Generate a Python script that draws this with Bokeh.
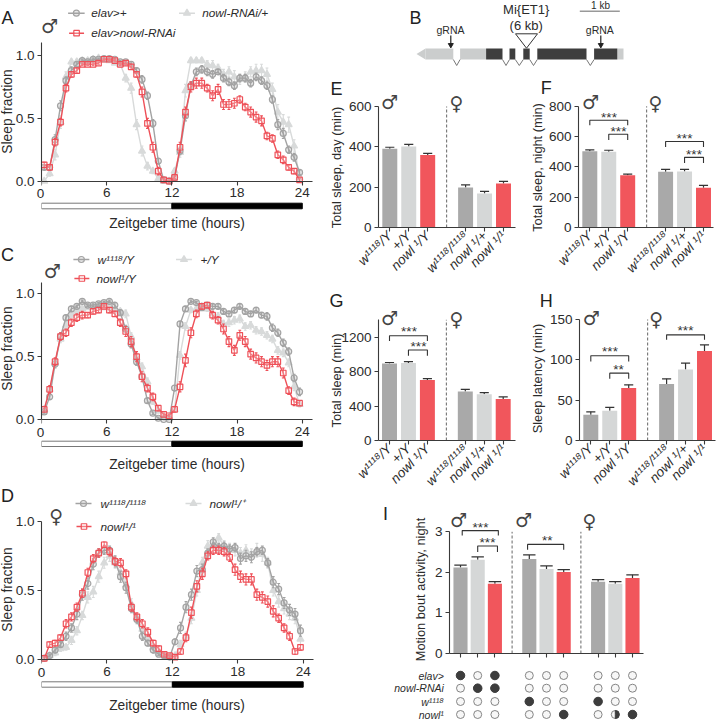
from math import pi
from bokeh.plotting import figure
from bokeh.layouts import row, column
from bokeh.models import Range1d, Label, FixedTicker
from bokeh.embed import file_html
from bokeh.resources import INLINE

# ---------- data ----------
ZT = [0.25,0.75,1.25,1.75,2.25,2.75,3.25,3.75,4.25,4.75,5.25,5.75,6.25,6.75,7.25,7.75,8.25,8.75,9.25,9.75,10.25,10.75,11.25,11.75,
      12.25,12.75,13.25,13.75,14.25,14.75,15.25,15.75,16.25,16.75,17.25,17.75,18.25,18.75,19.25,19.75,20.25,20.75,21.25,21.75,22.25,22.75,23.25,23.75]

a_dark = [0.11,0.11,0.33,0.60,0.80,0.88,0.93,0.96,0.95,0.97,0.97,0.975,0.975,0.97,0.95,0.95,0.93,0.88,0.81,0.68,0.46,0.16,0.01,0.0,
          0.03,0.24,0.52,0.76,0.87,0.89,0.87,0.85,0.87,0.82,0.79,0.76,0.82,0.82,0.78,0.83,0.80,0.76,0.65,0.45,0.38,0.25,0.19,0.07]
a_dark_e = [0.02,0.02,0.04,0.04,0.03,0.03,0.02,0.01,0.01,0.01,0.01,0.01,0.01,0.01,0.01,0.01,0.02,0.02,0.03,0.03,0.03,0.02,0.01,0.01,
            0.01,0.03,0.04,0.03,0.03,0.03,0.03,0.03,0.02,0.03,0.03,0.03,0.03,0.03,0.03,0.03,0.03,0.03,0.03,0.04,0.04,0.03,0.03,0.02]
a_light = [0.0,0.06,0.21,0.47,0.83,0.95,0.95,0.96,0.96,0.97,0.98,0.97,0.96,0.94,0.93,0.82,0.74,0.45,0.24,0.12,0.08,0.02,0.0,0.0,
           0.08,0.23,0.72,0.96,0.96,0.96,0.93,0.92,0.90,0.85,0.87,0.83,0.81,0.83,0.87,0.88,0.88,0.85,0.73,0.55,0.47,0.45,0.28,0.03]
a_light_e = [0.01,0.02,0.04,0.05,0.04,0.02,0.02,0.01,0.01,0.01,0.01,0.01,0.01,0.01,0.02,0.03,0.04,0.04,0.04,0.03,0.02,0.01,0.0,0.0,
             0.02,0.04,0.05,0.02,0.02,0.02,0.03,0.04,0.03,0.04,0.04,0.05,0.04,0.04,0.04,0.05,0.05,0.05,0.05,0.06,0.06,0.06,0.05,0.02]
a_red = [0.13,0.11,0.31,0.47,0.74,0.85,0.88,0.93,0.93,0.93,0.94,0.97,0.97,0.96,0.93,0.94,0.91,0.85,0.71,0.46,0.27,0.08,0.01,0.0,
         0.03,0.27,0.55,0.75,0.78,0.78,0.74,0.68,0.73,0.61,0.61,0.62,0.65,0.59,0.55,0.51,0.48,0.36,0.34,0.21,0.17,0.11,0.08,0.01]
a_red_e = [0.02,0.02,0.03,0.03,0.03,0.02,0.02,0.01,0.01,0.01,0.01,0.01,0.01,0.01,0.01,0.01,0.02,0.02,0.04,0.04,0.04,0.03,0.01,0.01,
           0.01,0.04,0.04,0.04,0.04,0.04,0.03,0.04,0.04,0.04,0.04,0.04,0.03,0.03,0.04,0.04,0.04,0.03,0.03,0.03,0.03,0.02,0.02,0.01]

c_dark = [0.06,0.18,0.44,0.66,0.81,0.88,0.90,0.94,0.91,0.91,0.92,0.93,0.94,0.91,0.85,0.72,0.60,0.46,0.34,0.15,0.05,0.01,0.0,0.0,
          0.25,0.76,0.88,0.94,0.93,0.89,0.91,0.90,0.90,0.86,0.84,0.87,0.90,0.86,0.84,0.87,0.83,0.82,0.73,0.69,0.61,0.54,0.33,0.22]
c_dark_e = [0.01,0.02,0.03,0.03,0.02,0.02,0.01,0.01,0.01,0.01,0.01,0.01,0.01,0.02,0.02,0.03,0.03,0.03,0.02,0.02,0.01,0.01,0.0,0.0,
            0.02,0.02,0.02,0.01,0.01,0.02,0.02,0.02,0.02,0.02,0.02,0.02,0.02,0.02,0.02,0.02,0.02,0.03,0.03,0.03,0.03,0.03,0.03,0.03]
c_light = [0.08,0.24,0.45,0.64,0.75,0.83,0.86,0.88,0.89,0.89,0.90,0.89,0.89,0.87,0.86,0.84,0.66,0.49,0.42,0.30,0.14,0.07,0.03,0.02,
           0.08,0.51,0.74,0.87,0.88,0.90,0.88,0.84,0.82,0.76,0.77,0.79,0.80,0.74,0.75,0.71,0.70,0.67,0.64,0.55,0.53,0.45,0.26,0.12]
c_light_e = [0.01,0.02,0.03,0.03,0.03,0.02,0.02,0.02,0.01,0.01,0.01,0.01,0.01,0.02,0.02,0.03,0.03,0.03,0.03,0.03,0.02,0.02,0.01,0.01,
             0.02,0.03,0.03,0.02,0.02,0.02,0.02,0.03,0.03,0.03,0.03,0.03,0.03,0.03,0.03,0.03,0.03,0.03,0.03,0.03,0.03,0.03,0.03,0.02]
c_red = [0.08,0.24,0.46,0.66,0.69,0.77,0.81,0.83,0.83,0.86,0.87,0.90,0.87,0.84,0.77,0.70,0.62,0.50,0.34,0.25,0.18,0.09,0.04,0.03,
         0.08,0.26,0.47,0.69,0.84,0.90,0.91,0.83,0.79,0.72,0.62,0.55,0.67,0.62,0.52,0.49,0.46,0.43,0.46,0.46,0.37,0.23,0.14,0.13]
c_red_e = [0.01,0.03,0.03,0.03,0.03,0.03,0.03,0.03,0.02,0.02,0.02,0.01,0.02,0.02,0.03,0.04,0.04,0.04,0.04,0.03,0.03,0.02,0.01,0.01,
           0.02,0.04,0.05,0.04,0.03,0.02,0.02,0.03,0.03,0.04,0.04,0.04,0.04,0.04,0.04,0.04,0.04,0.04,0.04,0.04,0.04,0.03,0.03,0.02]

d_dark = [0.01,0.03,0.07,0.11,0.17,0.23,0.33,0.47,0.55,0.69,0.77,0.79,0.79,0.71,0.60,0.52,0.37,0.29,0.17,0.12,0.07,0.04,0.03,0.02,
          0.13,0.23,0.38,0.47,0.64,0.65,0.77,0.85,0.81,0.82,0.80,0.81,0.73,0.75,0.74,0.78,0.79,0.70,0.56,0.51,0.41,0.36,0.33,0.21]
d_dark_e = [0.01,0.01,0.02,0.02,0.03,0.03,0.04,0.04,0.04,0.04,0.03,0.03,0.03,0.04,0.04,0.04,0.03,0.03,0.03,0.02,0.02,0.01,0.01,0.01,
            0.02,0.04,0.04,0.04,0.04,0.04,0.03,0.03,0.03,0.03,0.03,0.03,0.04,0.04,0.04,0.03,0.03,0.03,0.04,0.04,0.04,0.04,0.04,0.04]
d_light = [0.01,0.03,0.05,0.08,0.09,0.14,0.21,0.32,0.45,0.49,0.60,0.70,0.75,0.70,0.63,0.54,0.40,0.30,0.22,0.16,0.09,0.05,0.03,0.02,
           0.03,0.11,0.17,0.30,0.50,0.70,0.82,0.82,0.88,0.82,0.80,0.79,0.77,0.79,0.76,0.79,0.76,0.70,0.50,0.42,0.37,0.33,0.30,0.15]
d_light_e = [0.01,0.01,0.02,0.02,0.02,0.03,0.03,0.03,0.04,0.04,0.04,0.04,0.04,0.04,0.04,0.04,0.04,0.03,0.03,0.03,0.02,0.02,0.01,0.01,
             0.01,0.03,0.03,0.04,0.04,0.04,0.04,0.04,0.03,0.04,0.04,0.04,0.04,0.04,0.04,0.05,0.05,0.04,0.04,0.04,0.04,0.04,0.04,0.04]
d_red = [0.01,0.11,0.12,0.16,0.26,0.31,0.38,0.48,0.63,0.73,0.77,0.83,0.78,0.71,0.70,0.62,0.38,0.31,0.26,0.20,0.12,0.08,0.04,0.03,
         0.02,0.06,0.16,0.34,0.53,0.62,0.75,0.79,0.79,0.78,0.74,0.65,0.60,0.58,0.58,0.47,0.45,0.42,0.35,0.30,0.23,0.17,0.06,0.09]
d_red_e = [0.01,0.02,0.02,0.02,0.03,0.03,0.03,0.03,0.03,0.03,0.03,0.02,0.03,0.03,0.03,0.03,0.03,0.03,0.03,0.03,0.02,0.02,0.01,0.01,
           0.01,0.02,0.03,0.04,0.04,0.04,0.03,0.03,0.03,0.03,0.03,0.04,0.04,0.04,0.04,0.04,0.04,0.04,0.04,0.03,0.03,0.03,0.02,0.02]

bar_pos = [0, 1, 2, 4, 5, 6]
bar_labels = ["w\u00b9\u00b9\u00b9\u2078/Y", "+/Y", "nowl \u00b9/Y", "w\u00b9\u00b9\u00b9\u2078/\u00b9\u00b9\u00b9\u2078", "nowl \u00b9/+", "nowl \u00b9/\u00b9"]
e_val = [390, 402, 360, 198, 168, 218]
e_err = [8, 10, 8, 13, 11, 11]
f_val = [503, 500, 345, 368, 370, 262]
f_err = [9, 10, 8, 16, 14, 16]
g_val = [893, 900, 703, 568, 537, 482]
g_err = [12, 14, 14, 24, 18, 24]
h_val = [32, 37, 65, 70, 88, 111]
h_err = [3.5, 4, 4, 6.5, 8, 7.5]
i_pos = [0, 1, 2, 4, 5, 6, 8, 9, 10]
i_val = [2.12, 2.31, 1.72, 2.33, 2.08, 2.01, 1.77, 1.72, 1.86]
i_err = [0.06, 0.07, 0.05, 0.10, 0.08, 0.06, 0.05, 0.05, 0.08]
geno_rows = ["elav>", "nowl-RNAi", "w\u00b9\u00b9\u00b9\u2078", "nowl\u00b9"]
geno_marks = [[1,0,1,0,0,0,0,0,0],
              [0,1,1,0,0,0,0,0,0],
              [0,0,0,1,0,0,1,0,0],
              [0,0,0,0,0,1,0,0.5,1]]

utr_kb = [(0.92, 0.225), (1.09, 1.74), (5.02, 5.175)]
exon_kb = [(1.74, 2.15), (2.325, 2.47), (2.67, 2.83), (3.02, 4.25), (4.44, 5.02)]
intron_kb = [(0.92, 1.09), (2.15, 2.325), (2.47, 2.67), (2.83, 3.02), (4.25, 4.44)]

# ---------- style ----------
DARK = "#a3a3a3"; LIGHT = "#d8dada"; RED = "#ee5058"; INK = "#2b2b2b"
BAR_DARK = "#a9a9a9"; BAR_LIGHT = "#d5d7d7"; BAR_RED = "#f1565c"
FONT = "Liberation Sans"

# A transparent layer over the whole page carries the free-standing texts.
overlay = figure(width=716, height=720, x_range=Range1d(0, 716), y_range=Range1d(720, 0),
                 x_axis_type=None, y_axis_type=None, toolbar_location=None, output_backend="svg", tools="",
                 min_border_left=0, min_border_right=0, min_border_top=0, min_border_bottom=0,
                 margin=(-720, 0, 0, 0))
overlay.outline_line_color = None
overlay.grid.visible = False
overlay.background_fill_color = None
overlay.border_fill_color = None


def panel(box, xcal, ycal, frame, axes=True):
    cx0, cy0, cx1, cy1 = box
    fl, ft, fr, fb = frame
    xs = (xcal[3] - xcal[1]) / (xcal[2] - xcal[0])
    ys = (ycal[3] - ycal[1]) / (ycal[2] - ycal[0])
    extra = {} if axes else {"x_axis_type": None, "y_axis_type": None}
    fig = figure(width=cx1 - cx0, height=cy1 - cy0,
                 x_range=Range1d(xcal[0] + (fl - xcal[1]) / xs, xcal[0] + (fr - xcal[1]) / xs),
                 y_range=Range1d(ycal[0] + (fb - ycal[1]) / ys, ycal[0] + (ft - ycal[1]) / ys),
                 min_border_left=fl - cx0, min_border_right=cx1 - fr,
                 min_border_top=ft - cy0, min_border_bottom=cy1 - fb,
                 toolbar_location=None, output_backend="svg", tools="", **extra)
    fig.outline_line_color = None
    fig.grid.visible = False
    fig.background_fill_color = None
    fig.border_fill_color = None
    fig._dx = lambda px: xcal[0] + (px - xcal[1]) / xs
    fig._dy = lambda py: ycal[0] + (py - ycal[1]) / ys
    return fig


def txt(x, y, s, size=13.5, style="normal", align="center", angle=0, color=INK, font=FONT):
    overlay.add_layout(Label(x=x, y=y, text=s, text_font=font, text_font_size=f"{size}px",
                             text_font_style=style, text_align=align, text_baseline="middle",
                             angle=angle, angle_units="rad", text_color=color))


def style_axes(fig, xticks, yticks, xbound, ybound, xfix=None, yfmt=None, tick_size="13.5px"):
    xa, ya = fig.xaxis[0], fig.yaxis[0]
    xa.ticker = FixedTicker(ticks=xticks)
    ya.ticker = FixedTicker(ticks=yticks)
    xa.bounds = xbound; ya.bounds = ybound
    if xfix is not None:
        xa.fixed_location = xfix
    for a in (xa, ya):
        a.axis_line_color = "#3a3a3a"; a.axis_line_width = 1.1
        a.major_tick_line_color = "#3a3a3a"; a.major_tick_line_width = 1.1
        a.major_tick_in = 0; a.major_tick_out = 4
        a.minor_tick_line_color = None
        a.major_label_text_font = FONT
        a.major_label_text_font_size = tick_size
        a.major_label_text_color = INK
        a.major_label_standoff = 3
    if yfmt:
        ya.major_label_overrides = yfmt


def draw_series(fig, xs, ys, es, color, marker, size, fill, alpha):
    fig.line(xs, ys, line_color=color, line_width=1.4)
    lo = [a - b for a, b in zip(ys, es)]
    hi = [a + b for a, b in zip(ys, es)]
    fig.segment(xs, lo, xs, hi, line_color=color, line_width=1.1)
    fig.segment([x - 0.13 for x in xs], hi, [x + 0.13 for x in xs], hi, line_color=color, line_width=1.1)
    fig.segment([x - 0.13 for x in xs], lo, [x + 0.13 for x in xs], lo, line_color=color, line_width=1.1)
    fig.scatter(xs, ys, marker=marker, size=size, line_color=color, line_width=1.2, fill_color=fill, fill_alpha=alpha)


def legend_item(fig, x0, x1, y, tx, s, color, marker, size, fill, alpha, tsize=11.8):
    d = fig._dx; e = fig._dy
    fig.line([d(x0), d(x1)], [e(y), e(y)], line_color=color, line_width=1.4)
    fig.scatter([d((x0 + x1) / 2)], [e(y)], marker=marker, size=size, line_color=color, line_width=1.2,
                fill_color=fill, fill_alpha=alpha)
    txt(tx, y, s, size=tsize, style="italic", align="left")


def sex(x, y, s):
    txt(x, y, s, size=19, font="DejaVu Sans", color="#444444")


def time_panel(box, x0p, x24p, y0p, y1p, spine_top, ld_top, ld_bot, frame_bot, axis_right,
               series, letter, letter_y, ylabel_y, xlabel_y):
    fig = panel(box, (0, x0p, 24, x24p), (0, y0p, 1, y1p), (x0p, box[1], box[2] - 2, frame_bot))
    style_axes(fig, [0, 6, 12, 18, 24], [0, 0.5, 1],
               (0, fig._dx(axis_right)), (0, fig._dy(spine_top)), xfix=0,
               yfmt={0: "0.0", 0.5: "0.5", 1: "1.0"})
    fig.xaxis[0].major_label_overrides = {0: ""}
    for xs, ys, es, col, mk, sz, fill, al in series:
        draw_series(fig, xs, ys, es, col, mk, sz, fill, al)
    yt, yb = fig._dy(ld_top), fig._dy(ld_bot)
    fig.quad(left=[0], right=[12], bottom=[yb], top=[yt], fill_color="white", line_color="#777777", line_width=1)
    fig.quad(left=[12], right=[24], bottom=[yb], top=[yt], fill_color="#000000", line_color="#000000", line_width=1)
    txt(x0p, y0p + 12.6, "0")
    txt(7, ylabel_y, "Sleep fraction", size=13.8, angle=pi / 2)
    txt(176.5, xlabel_y, "Zeitgeber time (hours)", size=13.8)
    txt(7, letter_y, letter, size=18, color="#222222")
    return fig


# ---------- A, C, D ----------
sA = [(ZT, a_light, a_light_e, LIGHT, "triangle", 7, LIGHT, 1.0),
      (ZT, a_dark, a_dark_e, DARK, "circle", 6, DARK, 0.25),
      (ZT, a_red, a_red_e, RED, "square", 5.5, "white", 0.25)]
pa = time_panel((0, 0, 324, 236), 40, 301.7, 180.7, 55, 42, 202.7, 208.3, 210, 312, sA, "A", 17, 111, 223)
legend_item(pa, 66.7, 83.3, 12.7, 90.7, "elav>+", DARK, "circle", 6, DARK, 0.25)
legend_item(pa, 178, 194, 12.7, 201.7, "nowl-RNAi/+", LIGHT, "triangle", 7, LIGHT, 1.0)
legend_item(pa, 67.7, 82.7, 32.7, 90.7, "elav>nowl-RNAi", RED, "square", 5.5, "white", 0.25)
sex(49, 25, "\u2642")

sC = [(ZT, c_light, c_light_e, LIGHT, "triangle", 7, LIGHT, 1.0),
      (ZT, c_dark, c_dark_e, DARK, "circle", 6, DARK, 0.25),
      (ZT, c_red, c_red_e, RED, "square", 5.5, "white", 0.25)]
pc = time_panel((0, 236, 324, 476), 40, 301.7, 419, 293.3, 281.7, 440.7, 446, 450, 311.5, sC, "C", 254, 348, 464)
legend_item(pc, 72, 88, 259, 97, "w\u00b9\u00b9\u00b9\u2078/Y", DARK, "circle", 6, DARK, 0.25)
legend_item(pc, 175, 191, 259, 200, "+/Y", LIGHT, "triangle", 7, LIGHT, 1.0)
legend_item(pc, 73, 88, 278, 96, "nowl\u00b9/Y", RED, "square", 5.5, "white", 0.25)
sex(51.7, 270, "\u2642")

sD = [(ZT, d_light, d_light_e, LIGHT, "triangle", 7, LIGHT, 1.0),
      (ZT, d_dark, d_dark_e, DARK, "circle", 6, DARK, 0.25),
      (ZT, d_red, d_red_e, RED, "square", 5.5, "white", 0.25)]
pd_ = time_panel((0, 476, 324, 720), 41, 302.7, 659.3, 520.7, 520.7, 681.3, 686.7, 690, 313, sD, "D", 495, 589, 705)
legend_item(pd_, 75, 91, 503, 100, "w\u00b9\u00b9\u00b9\u2078/\u00b9\u00b9\u00b9\u2078", DARK, "circle", 6, DARK, 0.25)
legend_item(pd_, 185, 201, 503, 209, "nowl\u00b9/\u207a", LIGHT, "triangle", 7, LIGHT, 1.0)
legend_item(pd_, 76, 91, 526, 100, "nowl\u00b9/\u00b9", RED, "square", 5.5, "white", 0.25)
sex(55.7, 515, "\u2640")

# ---------- B gene model ----------
pb = panel((324, 0, 716, 78), (0, 416, 1, 456), (0, 59, 1, 48), (324, 0, 716, 78), axes=False)
for (a, b) in utr_kb:
    pb.quad(left=[min(a, b)], right=[max(a, b)], bottom=[0], top=[1], fill_color="#cbcdcd", line_color=None)
pb.patch([0, 0.225, 0.225], [0.5, 1, 0], fill_color="#cbcdcd", line_color=None)
for (a, b) in exon_kb:
    pb.quad(left=[a], right=[b], bottom=[0], top=[1], fill_color="#3e3e3e", line_color=None)
for (a, b) in intron_kb:
    pb.line([a, (a + b) / 2, b], [0, pb._dy(65), 0], line_color="#777777", line_width=1)
k = pb._dx
pb.patch([k(515), k(537), k(526)], [pb._dy(33.3), pb._dy(33.3), pb._dy(47.7)], fill_color="white",
         line_color="#333333", line_width=1)
pb.line([k(579.3), k(619.3)], [pb._dy(10.7), pb._dy(10.7)], line_color="#999999", line_width=1.4)
for gx in (450.3, 600.3):
    pb.line([k(gx), k(gx)], [pb._dy(35), pb._dy(44)], line_color="#222222", line_width=1.2)
    pb.scatter([k(gx)], [pb._dy(44.5)], marker="inverted_triangle", size=5, fill_color="#222222", line_color="#222222")
txt(450, 29, "gRNA", size=10.5)
txt(599.3, 29, "gRNA", size=10.5)
txt(525.7, 9, "Mi{ET1}", size=13)
txt(525.7, 25, "(6 kb)", size=13)
txt(600, 5, "1 kb", size=10)
txt(415, 17, "B", size=18, color="#222222")


# ---------- bars ----------
def bars(fig, xs, vals, errs, cap, width=0.79):
    cols = ([BAR_DARK, BAR_LIGHT, BAR_RED] * 4)[:len(xs)]
    fig.segment(xs, vals, xs, [v + e for v, e in zip(vals, errs)], line_color="#333333", line_width=1.2)
    fig.segment([x - cap for x in xs], [v + e for v, e in zip(vals, errs)],
                [x + cap for x in xs], [v + e for v, e in zip(vals, errs)], line_color="#333333", line_width=1.2)
    fig.vbar(x=xs, top=vals, width=width, bottom=0, fill_color=cols, line_color=None)


def bracket(fig, a, b, top, drop_a, drop_b, stars, sy, sx):
    fig.line([a, a, b, b], [drop_a, top, top, drop_b], line_color="#333333", line_width=1.1)
    txt(sx, sy + 1, stars, size=13.5, color="#333333")


def bar_panel(box, p0, p6, y0p, ytopp, ymax, yticks, vals, errs, axis_right, dash_top, ylabel, ylx, yly, letter, lx, ly, mx, fx, sy):
    fl = round(p0 - 11); fb = round(y0p)
    fig = panel(box, (0, p0, 6, p6), (0, fb, ymax, ytopp), (fl, box[1], box[2], fb))
    style_axes(fig, bar_pos, yticks, (fig._dx(fl), fig._dx(axis_right)), (0, ymax))
    fig.xaxis[0].major_label_overrides = dict(zip(bar_pos, bar_labels))
    fig.xaxis[0].major_label_orientation = pi / 4
    fig.xaxis[0].major_label_text_font_style = "italic"
    fig.xaxis[0].major_label_text_font_size = "13.5px"
    fig.xaxis[0].major_label_standoff = 2
    bars(fig, bar_pos, vals, errs, 0.24)
    fig.line([3, 3], [0, fig._dy(dash_top)], line_color="#555555", line_width=0.9, line_dash="3 2")
    txt(ylx, yly, ylabel, size=12.8, angle=pi / 2)
    txt(lx, ly, letter, size=18, color="#222222")
    sex(mx, sy, "\u2642")
    sex(fx, sy + 1, "\u2640")
    return fig


pe = bar_panel((324, 78, 520, 285), 389.3, 503, 227.3, 106, 600, [0, 200, 400, 600], e_val, e_err, 514.7, 106,
               "Total sleep, day (min)", 336, 167, "E", 336, 88, 389, 456, 101.7)
pf = bar_panel((520, 78, 716, 285), 589.3, 703, 227.7, 106, 800, [0, 200, 400, 600, 800], f_val, f_err, 713, 106,
               "Total sleep, night (min)", 537, 167, "F", 545.7, 87, 590, 655, 101.7)
bracket(pf, 0, 2, 708, 675, 675, "***", 116, 608.5)
bracket(pf, 1, 2, 616, 577, 577, "***", 130, 618)
bracket(pf, 4, 6, 568, 532, 532, "***", 137, 684)
bracket(pf, 5, 6, 463, 425, 425, "***", 153, 693.5)

pg = bar_panel((324, 285, 520, 497), 389, 502.7, 440.3, 319.3, 1400, [0, 400, 800, 1200], g_val, g_err, 514.7, 319.3,
               "Total sleep (min)", 336, 380, "G", 336, 300, 389, 456, 317)
bracket(pg, 0, 2, 1215, 1154, 1154, "***", 330, 408.5)
bracket(pg, 1, 2, 1050, 984, 984, "***", 345, 418)

ph = bar_panel((520, 285, 716, 497), 590.3, 704, 440, 319, 150, [0, 50, 100, 150], h_val, h_err, 715, 319,
               "Sleep latency (min)", 537, 378, "H", 545.7, 300, 590.7, 655.7, 317)
bracket(ph, 0, 2, 105, 98, 98, "***", 350, 609.5)
bracket(ph, 1, 2, 83.5, 76.5, 76.5, "**", 368, 618)
bracket(ph, 4, 6, 131, 125, 125, "***", 329, 685)

# ---------- I ----------
pi_ = panel((324, 497, 716, 662), (0, 460, 10, 632), (0, 653, 3, 531.3), (449, 497, 716, 653))
style_axes(pi_, i_pos, [0, 1, 2, 3], (pi_._dx(449), pi_._dx(643.3)), (0, 3))
pi_.xaxis[0].major_label_overrides = {x: "" for x in i_pos}
bars(pi_, i_pos, i_val, i_err, 0.36, width=0.82)
for dx in (3, 7):
    pi_.line([dx, dx], [0, 3], line_color="#555555", line_width=0.9, line_dash="3 2")
bracket(pi_, 0.1, 2.2, 3.03, 2.91, 2.91, "***", 526, 480)
bracket(pi_, 1.0, 2.15, 2.65, 2.5, 2.5, "***", 541, 487)
bracket(pi_, 3.9, 6.0, 2.69, 2.56, 2.56, "**", 539, 546.7)
txt(420, 589, "Motion bout activity, night", size=12.8, angle=pi / 2)
txt(385, 513, "I", size=18, color="#222222")
sex(458, 519, "\u2642")
sex(523, 519, "\u2642")
sex(589, 520, "\u2640")

pm = panel((324, 662, 716, 720), (0, 460, 10, 632), (0, 662, 1, 720), (324, 662, 716, 720), axes=False)
row_y = [675, 687.7, 701, 714]
for ry, name, marks in zip(row_y, geno_rows, geno_marks):
    yd = pm._dy(ry)
    txt(443.3, ry, name, size=10.5, style="italic", align="right")
    pm.scatter(i_pos, [yd] * 9, marker="circle", size=8, line_color="#777777", line_width=0.9, fill_color="#f7f7f7")
    on = [x for x, m in zip(i_pos, marks) if m == 1]
    pm.scatter(on, [yd] * len(on), marker="circle", size=8.5, line_color="#3d3d3d", fill_color="#3d3d3d")
    half = [x for x, m in zip(i_pos, marks) if m == 0.5]
    if half:
        pm.wedge(half, [yd] * len(half), radius=4, radius_units="screen", start_angle=-pi / 2, end_angle=pi / 2,
                 fill_color="#3d3d3d", line_color="#3d3d3d")

# ---------- page ----------
left = column(pa, pc, pd_)
right = column(row(pb), row(pe, pf), row(pg, ph), row(pi_), row(pm))
root = column(row(left, right), overlay)
open("out.html", "w").write(file_html(root, INLINE))
